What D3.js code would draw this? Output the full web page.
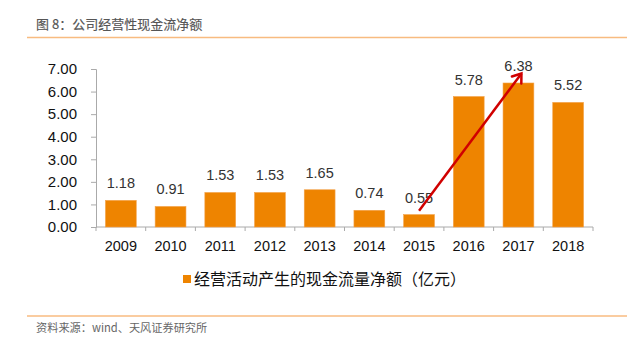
<!DOCTYPE html>
<html>
<head>
<meta charset="utf-8">
<script src="https://cdn.jsdelivr.net/npm/d3@7"></script>
<style>
  html, body { margin: 0; padding: 0; background: #fff; }
  svg { display: block; font-family: "Liberation Sans", Arial, "Noto Sans CJK SC", sans-serif; }
</style>
</head>
<body>
<div id="chart"></div>
<script>
// data
const years = ['2009', '2010', '2011', '2012', '2013', '2014', '2015', '2016', '2017', '2018'];
const cashFlow = [1.18, 0.91, 1.53, 1.53, 1.65, 0.74, 0.55, 5.78, 6.38, 5.52];
const yTicks = [0, 1, 2, 3, 4, 5, 6, 7];
const seriesName = '经营活动产生的现金流量净额（亿元）';
const arrowFrom = ['2015', 0.72];
const arrowTo = ['2017', 6.8];

const width = 627, height = 343;
const margin = { left: 96, right: 34, top: 69, bottom: 116 };
const cjk = '"Noto Sans CJK SC", sans-serif';

const svg = d3.select('#chart').append('svg')
    .attr('width', width)
    .attr('height', height);

// Title + rules
svg.append('text')
    .attr('x', 36).attr('y', 29)
    .attr('font-size', '13px')
    .attr('fill', '#555')
    .attr('stroke', '#555')
    .attr('stroke-width', 0.15)
    .attr('font-family', cjk)
    .text('图 8：公司经营性现金流净额');

svg.append('line')
    .attr('x1', 27).attr('x2', width)
    .attr('y1', 37.5).attr('y2', 37.5)
    .attr('stroke', '#f8bb80').attr('stroke-width', 1.5);

svg.append('line')
    .attr('x1', 27).attr('x2', width)
    .attr('y1', 316).attr('y2', 316)
    .attr('stroke', '#f8bb80').attr('stroke-width', 1.5);

svg.append('text')
    .attr('x', 36).attr('y', 332)
    .attr('font-size', '11.2px')
    .attr('fill', '#666')
    .attr('font-family', cjk)
    .text('资料来源：wind、天风证券研究所');

// Scales
const x = d3.scaleBand()
    .domain(years)
    .range([margin.left, width - margin.right])
    .paddingInner(0.38)
    .paddingOuter(0.19);

const y = d3.scaleLinear()
    .domain([0, 7])
    .range([height - margin.bottom, margin.top]);

const xEdge = d3.scaleLinear().domain([0, years.length]).range([margin.left, width - margin.right]);

// Y axis
const yAxis = svg.append('g')
    .attr('transform', `translate(${margin.left},0)`)
    .call(d3.axisLeft(y).tickValues(yTicks).tickFormat(d3.format('.2f')).tickSize(5).tickPadding(14));
yAxis.select('.domain').attr('stroke', '#aaa');
yAxis.selectAll('.tick line').attr('stroke', '#aaa');
yAxis.selectAll('.tick text')
    .attr('font-size', '15px')
    .attr('fill', '#111')
    .attr('font-family', '"Liberation Sans", Arial, sans-serif');

// X axis line + ticks at band edges
const xAxisG = svg.append('g');
xAxisG.append('line')
    .attr('x1', xEdge(0)).attr('x2', xEdge(years.length))
    .attr('y1', y(0)).attr('y2', y(0))
    .attr('stroke', '#aaa');
xAxisG.selectAll('.xtick')
    .data(d3.range(years.length + 1))
    .join('line')
    .attr('x1', d => xEdge(d)).attr('x2', d => xEdge(d))
    .attr('y1', y(0)).attr('y2', y(0) + 4)
    .attr('stroke', '#aaa');
xAxisG.selectAll('.xlabel')
    .data(years)
    .join('text')
    .attr('x', d => x(d) + x.bandwidth() / 2)
    .attr('y', y(0) + 24)
    .attr('text-anchor', 'middle')
    .attr('font-size', '14.5px')
    .attr('fill', '#111')
    .text(d => d);

// Bars
const data = years.map((yr, i) => ({ year: yr, value: cashFlow[i] }));

svg.append('g').selectAll('rect')
    .data(data)
    .join('rect')
    .attr('x', d => x(d.year))
    .attr('y', d => y(d.value))
    .attr('width', x.bandwidth())
    .attr('height', d => y(0) - y(d.value))
    .attr('fill', '#ee8400')
    .attr('stroke', '#f3a24a')
    .attr('stroke-width', 0.6);

// Value labels
svg.append('g').selectAll('text')
    .data(data)
    .join('text')
    .attr('x', d => x(d.year) + x.bandwidth() / 2)
    .attr('y', d => y(d.value) - 12)
    .attr('text-anchor', 'middle')
    .attr('font-size', '14.5px')
    .attr('fill', '#333')
    .text(d => d3.format('.2f')(d.value));

// Red arrow
const ax1 = x(arrowFrom[0]) + x.bandwidth() / 2, ay1 = y(arrowFrom[1]);
const ax2 = x(arrowTo[0]) + x.bandwidth() / 2 + 3, ay2 = y(arrowTo[1]);
const ang = Math.atan2(ay2 - ay1, ax2 - ax1);
const headLen = 10, headAng = Math.PI / 5;
svg.append('line')
    .attr('x1', ax1).attr('y1', ay1)
    .attr('x2', ax2).attr('y2', ay2)
    .attr('stroke', '#d00000').attr('stroke-width', 2.5);
svg.append('path')
    .attr('d', `M${ax2 - headLen * Math.cos(ang - headAng)},${ay2 - headLen * Math.sin(ang - headAng)}L${ax2},${ay2}L${ax2 - headLen * Math.cos(ang + headAng)},${ay2 - headLen * Math.sin(ang + headAng)}`)
    .attr('fill', 'none')
    .attr('stroke', '#d00000').attr('stroke-width', 2.5)
    .attr('stroke-linecap', 'round');

// Legend
const legend = svg.append('g').attr('transform', 'translate(183,275)');
legend.append('rect')
    .attr('width', 8).attr('height', 8)
    .attr('fill', '#ee8400');
legend.append('text')
    .attr('x', 11).attr('y', 10)
    .attr('font-size', '16px')
    .attr('fill', '#111')
    .attr('font-family', cjk)
    .text(seriesName);
</script>
</body>
</html>
